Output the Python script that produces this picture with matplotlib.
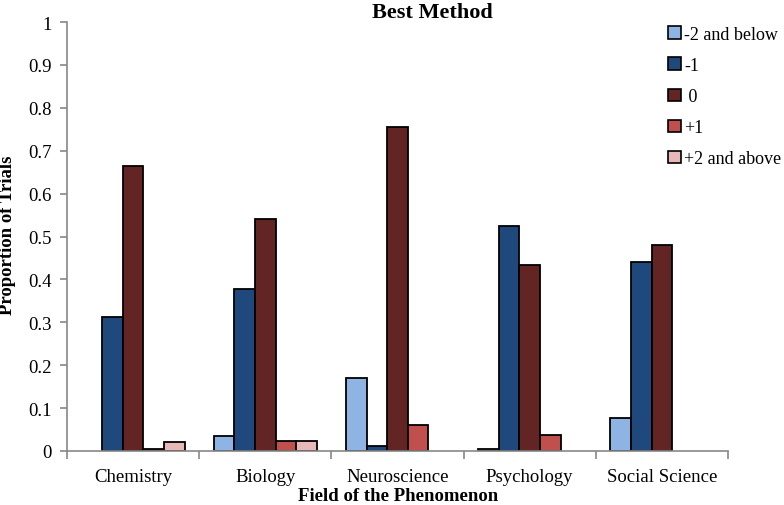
import matplotlib
matplotlib.use("Agg")
import matplotlib.pyplot as plt
import numpy as np
from matplotlib.patches import Patch

plt.rcParams['font.family'] = ['Liberation Serif', 'DejaVu Serif']

fields = ["Chemistry", "Biology", "Neuroscience", "Psychology", "Social Science"]
series_names = ["-2 and below", "-1", " 0", "+1", "+2 and above"]
colors = ["#8db4e2", "#1f497d", "#632523", "#c0504d", "#e6b9b8"]

minus2 = [0.0, 0.035, 0.170, 0.005, 0.078]
minus1 = [0.312, 0.378, 0.012, 0.525, 0.441]
zero = [0.664, 0.540, 0.756, 0.433, 0.481]
plus1 = [0.005, 0.023, 0.060, 0.038, 0.0]
plus2 = [0.020, 0.023, 0.0, 0.0, 0.0]
values = [minus2, minus1, zero, plus1, plus2]

fig = plt.figure(figsize=(7.84, 5.06), dpi=100)
ax = fig.add_axes([67 / 784, 54 / 506, 661 / 784, 429 / 506])

x = np.arange(len(fields))
width = 0.156
for i, (vals, col) in enumerate(zip(values, colors)):
    offs = (i - 2) * width
    for xi, v in zip(x, vals):
        if v > 0:
            ax.bar(xi + offs, v, width, color=col, edgecolor="black", linewidth=1.3)

ax.set_xlim(-0.5, len(fields) - 0.5)
ax.set_ylim(0, 1)
ax.set_yticks(np.arange(0, 1.01, 0.1))
ax.set_yticklabels(["0", "0.1", "0.2", "0.3", "0.4", "0.5", "0.6", "0.7", "0.8", "0.9", "1"])
ax.set_xticks(x)
ax.set_xticklabels(fields)
ax.set_xticks(np.arange(-0.5, len(fields), 1), minor=True)
ax.tick_params(axis="x", which="major", length=0, pad=12, labelsize=13.5)
ax.tick_params(axis="x", which="minor", length=6, color="#888888", width=1.2)
ax.tick_params(axis="y", length=5, color="#888888", width=1.2, labelsize=13.5, pad=6)

for side in ["top", "right"]:
    ax.spines[side].set_visible(False)
for side in ["left", "bottom"]:
    ax.spines[side].set_color("#888888")
    ax.spines[side].set_linewidth(1.2)

fig.text(398 / 784, 1 - 501 / 506, "Field of the Phenomenon", ha="center", va="baseline",
         fontsize=13.5, fontweight="bold")
fig.text(8 / 784, 1 - 235 / 506, "Proportion of Trials", ha="center", va="center",
         rotation=90, fontsize=13.5, fontweight="bold")
fig.text(432 / 784, 1 - 13 / 506, "Best Method", ha="center", va="center",
         fontsize=16, fontweight="bold")

handles = [Patch(facecolor=c, edgecolor="black", linewidth=1.2) for c in colors]
fig.legend(handles, series_names, loc="upper left", bbox_to_anchor=(668 / 784, 1 - 27 / 506),
           frameon=False, fontsize=13, handlelength=0.7, handleheight=0.7,
           handletextpad=0.2, labelspacing=0.78, borderpad=0, borderaxespad=0)

fig.savefig("out.png", dpi=100)
